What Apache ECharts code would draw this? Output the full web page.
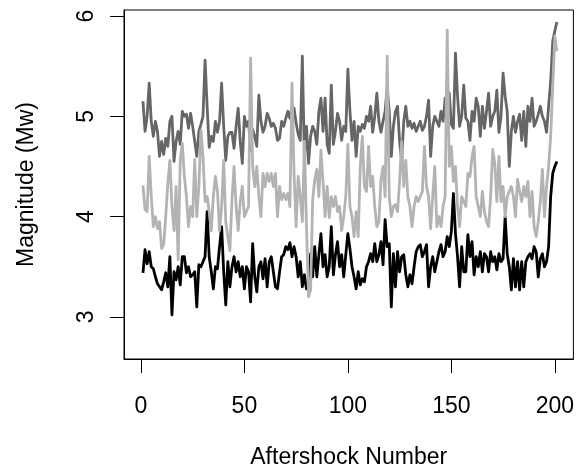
<!DOCTYPE html>
<html>
<head>
<meta charset="utf-8">
<script src="https://cdn.jsdelivr.net/npm/echarts@6/dist/echarts.min.js"></script>
<style>
  html, body { margin: 0; padding: 0; background: #fff; }
  #chart { width: 577px; height: 476px; }
</style>
</head>
<body>
<div id="chart"></div>
<script>
// magnitudes per aftershock (three estimates)
const darkSeries = [
  5.15, 4.85, 5.0, 5.33, 4.95, 4.8, 4.95, 4.85, 4.6, 4.75,
  4.62, 4.78, 4.7, 4.95, 5.0, 4.55, 4.75, 4.85, 4.72, 5.05,
  5.0, 5.02, 4.88, 5.03, 4.9, 4.75, 4.6, 4.85, 4.92, 5.0,
  5.56, 5.1, 4.69, 4.8, 4.75, 4.95, 4.84, 4.95, 5.33, 4.9,
  4.56, 4.8, 4.84, 4.84, 4.68, 4.9, 5.08, 4.75, 4.53, 5.0,
  4.9, 4.95, 4.66, 4.87, 4.8, 4.7, 5.21, 4.95, 4.84, 4.9,
  5.03, 4.98, 4.9, 4.93, 4.88, 4.76, 4.78, 4.95, 4.9, 4.98,
  5.05, 4.98, 5.1, 5.08, 4.93, 4.82, 4.76, 5.6, 4.6, 4.9,
  4.53, 4.8, 4.9, 4.85, 4.72, 5.05, 5.18, 4.85, 5.18, 4.72,
  4.63, 5.31, 4.72, 4.85, 5.03, 4.95, 4.76, 4.9, 4.85, 5.47,
  5.05, 4.76, 4.95, 4.6, 4.9, 4.85, 4.92, 4.88, 5.0, 4.95,
  5.1, 4.84, 5.0, 5.23, 4.95, 4.84, 4.95, 5.05, 5.29, 5.05,
  4.6, 4.9, 5.05, 5.1, 4.75, 4.56, 4.95, 5.1, 4.9, 4.95,
  4.88, 4.93, 4.85, 4.9, 4.95, 4.86, 4.9, 5.0, 5.16, 4.6,
  4.9, 5.0, 4.95, 4.9, 5.05, 4.95, 5.18, 4.84, 5.23, 4.92,
  4.88, 5.63, 5.2, 4.9, 5.0, 5.31, 4.98, 4.95, 4.76, 5.05,
  4.95, 5.18, 5.1, 4.8, 5.1, 4.88, 5.05, 5.23, 4.9, 5.0,
  5.05, 5.26, 4.84, 5.0, 5.43, 5.2, 5.05, 4.5, 4.85, 5.0,
  4.84, 4.95, 5.02, 4.76, 5.05, 4.7, 5.1, 4.95, 5.18, 4.9,
  4.95, 5.02, 5.1, 5.0, 4.95, 4.84, 5.1, 5.35, 5.75, 5.85,
  5.94
]
const lightSeries = [
  4.31, 4.07, 4.05, 4.6, 4.2, 3.9, 4.0, 3.88, 3.95, 3.68,
  3.72, 4.0, 4.33, 4.56, 4.1, 3.86, 4.3, 3.57, 4.56, 4.73,
  4.4, 4.2, 3.9, 4.1, 4.0, 4.57, 4.0, 4.3, 4.86, 4.6,
  4.15, 4.2, 4.05, 3.86, 4.2, 4.4, 4.25, 3.86, 4.1, 4.56,
  3.95, 3.8, 3.66, 4.17, 4.5, 4.1, 3.86, 4.15, 4.3, 4.0,
  4.05, 4.1, 5.58, 4.5, 4.3, 4.5, 4.2, 4.0, 4.43, 4.3,
  4.43, 4.35, 4.43, 4.3, 4.43, 4.0, 4.3, 4.17, 4.23, 4.17,
  4.23, 4.1, 5.33, 4.43, 3.9, 4.4, 4.2, 3.95, 4.75, 3.9,
  3.2, 3.27, 4.17, 4.37, 4.47, 4.2, 4.66, 4.35, 4.0, 4.3,
  3.99, 4.2, 4.1, 4.2, 4.05, 4.1, 3.86, 4.0, 4.2, 4.72,
  4.1, 4.0, 3.8, 4.05, 3.8, 4.5, 4.8, 4.3, 4.25, 4.7,
  4.3, 4.4, 4.1, 3.9, 3.95, 4.37, 4.5, 4.2, 5.6, 4.2,
  4.0, 4.1, 4.12, 4.05, 4.35, 4.75, 4.3, 4.56, 4.2, 4.1,
  3.9, 4.1, 4.2, 4.15, 4.2, 4.25, 4.7, 4.3, 4.2, 3.88,
  4.2, 4.5, 3.9, 4.0, 3.9, 4.1, 4.2, 5.86, 4.5, 4.7,
  4.35, 4.5, 4.1, 3.9, 4.2, 4.15, 4.1, 4.43, 4.4, 4.6,
  4.7, 4.2, 4.1, 4.0, 4.25, 4.05, 3.95, 3.9, 4.2, 4.67,
  4.53, 4.15, 4.6, 4.15, 4.3, 4.0, 4.2, 4.25, 4.3, 4.2,
  4.0, 4.37, 4.25, 4.15, 4.3, 4.2, 4.35, 4.0, 4.25, 3.9,
  3.8, 3.95, 4.15, 4.47, 4.0, 4.3, 4.5, 4.8, 5.3, 5.8,
  5.65
]
const blackSeries = [
  3.44, 3.67, 3.53, 3.65, 3.5, 3.48, 3.4, 3.33, 3.3, 3.27,
  3.35, 3.44, 3.3, 3.6, 3.02, 3.45, 3.37, 3.5, 3.32, 3.6,
  3.6, 3.44, 3.5, 3.4, 3.42, 3.45, 3.1, 3.52, 3.5, 3.55,
  3.6, 4.05, 3.6, 3.45, 3.28, 3.5, 3.48, 3.7, 3.9, 3.45,
  3.12, 3.55, 3.3, 3.5, 3.6, 3.45, 3.55, 3.4, 3.5, 3.28,
  3.5, 3.45, 3.15, 3.73, 3.4, 3.25, 3.5, 3.55, 3.38, 3.58,
  3.3, 3.55, 3.6, 3.45, 3.3, 3.28, 3.45, 3.6, 3.62, 3.7,
  3.67, 3.74, 3.6, 3.7, 3.6, 3.4, 3.55, 3.3, 3.42, 3.28,
  3.35, 3.63, 3.4, 3.7, 3.4, 3.62, 3.83, 3.5, 3.62, 3.4,
  3.5, 3.9, 3.42, 3.62, 3.75, 3.5, 3.62, 3.4, 3.62, 3.83,
  3.68, 3.5, 3.4, 3.28, 3.45, 3.32, 3.38, 3.35, 3.5, 3.55,
  3.63, 3.55, 3.73, 3.55, 3.62, 3.75, 3.52, 3.97, 3.7, 3.73,
  3.1, 3.63, 3.3, 3.65, 3.45, 3.6, 3.62, 3.42, 3.3, 3.42,
  3.33, 3.5, 3.65, 3.7, 3.72, 3.6, 3.65, 3.72, 3.3, 3.5,
  3.6, 3.45, 3.55, 3.65, 3.72, 3.6, 3.65, 3.8, 3.7, 3.85,
  4.23, 3.83, 3.6, 3.3, 3.7, 3.45, 3.45, 3.82, 3.6, 3.75,
  3.42, 3.6, 3.5, 3.65, 3.45, 3.63, 3.6, 3.45, 3.65, 3.55,
  3.6, 3.47, 3.63, 3.55, 3.58, 4.0, 3.63, 3.5, 3.27, 3.58,
  3.3, 3.55, 3.27, 3.55, 3.3, 3.55, 3.6, 3.63, 3.58, 3.7,
  3.65, 3.4, 3.58, 3.63, 3.5, 3.55, 3.7, 4.2, 4.43, 4.5,
  4.55
]
const xTicks = [0, 50, 100, 150, 200]
const yTicks = [3, 4, 5, 6]

const font = 'Liberation Sans, Arial, Helvetica, sans-serif'
const toPairs = arr => arr.map((v, i) => [i + 1, v])

const chart = echarts.init(document.getElementById('chart'), null, { renderer: 'canvas' })

const lineSeries = (data, color) => ({
  type: 'line',
  data: toPairs(data),
  showSymbol: false,
  symbol: 'none',
  silent: true,
  animation: false,
  lineStyle: { color, width: 2.8, join: 'round' }
})

chart.setOption({
  backgroundColor: '#fff',
  animation: false,
  grid: {
    left: 124, top: 10, right: 1, bottom: 117,
    show: true, borderColor: '#000', borderWidth: 1, backgroundColor: 'transparent'
  },
  xAxis: {
    type: 'value',
    position: 'bottom',
    min: -8.17, max: 208.98,
    name: 'Aftershock Number',
    nameLocation: 'middle',
    nameGap: 87,
    nameTextStyle: { fontFamily: font, fontSize: 23, color: '#000' },
    axisLine: { show: true, onZero: false, lineStyle: { color: '#000', width: 1 } },
    splitLine: { show: false },
    axisTick: { show: true, customValues: xTicks, length: 14, inside: false, lineStyle: { color: '#000', width: 1 } },
    axisLabel: { customValues: xTicks, margin: 36, fontFamily: font, fontSize: 23, color: '#000' }
  },
  yAxis: {
    type: 'value',
    position: 'left',
    min: 2.58, max: 6.06,
    name: 'Magnitude (Mw)',
    nameLocation: 'middle',
    nameGap: 86,
    nameTextStyle: { fontFamily: font, fontSize: 23, color: '#000' },
    axisLine: { show: true, onZero: false, lineStyle: { color: '#000', width: 1 } },
    splitLine: { show: false },
    axisTick: { show: true, customValues: yTicks, length: 14, inside: false, lineStyle: { color: '#000', width: 1 } },
    axisLabel: { customValues: yTicks, rotate: 90, margin: 26, fontFamily: font, fontSize: 23, color: '#000' }
  },
  series: [
    lineSeries(blackSeries, '#000000'),
    lineSeries(darkSeries, '#666666'),
    lineSeries(lightSeries, '#b3b3b3')
  ]
})
</script>
</body>
</html>
